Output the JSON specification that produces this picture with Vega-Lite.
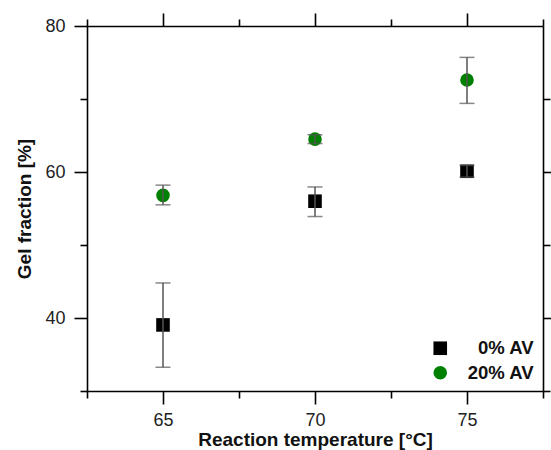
{
  "$schema": "https://vega.github.io/schema/vega-lite/v6.json",
  "width": 456,
  "height": 365,
  "autosize": "none",
  "padding": {"left": 87, "top": 26, "right": 8, "bottom": 59},
  "background": "white",
  "config": {
    "view": {"stroke": null},
    "font": "Liberation Sans",
    "axis": {
      "grid": false,
      "domainColor": "black",
      "domainWidth": 1.6,
      "tickColor": "black",
      "tickWidth": 1.6,
      "labelFont": "Liberation Sans",
      "labelFontSize": 18,
      "labelColor": "#222",
      "titleFont": "Liberation Sans",
      "titleFontSize": 19,
      "titleFontWeight": "bold",
      "titleColor": "#111"
    },
    "legend": {
      "title": null,
      "orient": "none",
      "legendX": 344,
      "legendY": 313,
      "padding": 0,
      "symbolSize": 185,
      "symbolStrokeWidth": 0,
      "labelFont": "Liberation Sans",
      "labelFontSize": 18.5,
      "labelFontWeight": "bold",
      "labelColor": "#111",
      "labelAlign": "right",
      "labelOffset": 84,
      "labelLimit": 200,
      "rowPadding": 5.5
    }
  },
  "data": {
    "values": [
      {"temp": 65, "series": "0% AV", "mean": 39.05, "lo": 33.25, "hi": 44.8},
      {"temp": 70, "series": "0% AV", "mean": 56.0, "lo": 53.9, "hi": 57.95},
      {"temp": 75, "series": "0% AV", "mean": 60.1, "lo": 59.3, "hi": 60.9},
      {"temp": 65, "series": "20% AV", "mean": 56.8, "lo": 55.5, "hi": 58.2},
      {"temp": 70, "series": "20% AV", "mean": 64.5, "lo": 63.9, "hi": 65.1},
      {"temp": 75, "series": "20% AV", "mean": 72.6, "lo": 69.4, "hi": 75.7}
    ]
  },
  "resolve": {"axis": {"x": "independent", "y": "independent"}},
  "layer": [
    {
      "mark": {"type": "point", "filled": true, "opacity": 1, "size": 185},
      "encoding": {
        "x": {
          "field": "temp", "type": "quantitative",
          "scale": {"domain": [62.5, 77.5], "nice": false, "zero": false},
          "axis": {
            "orient": "bottom",
            "title": "Reaction temperature [°C]",
            "values": [65, 70, 75],
            "tickSize": 13,
            "labelPadding": 7,
            "titlePadding": 1
          }
        },
        "y": {
          "field": "mean", "type": "quantitative",
          "scale": {"domain": [30, 80], "nice": false, "zero": false},
          "axis": {
            "orient": "left",
            "title": "Gel fraction [%]",
            "values": [40, 60, 80],
            "tickSize": 13,
            "labelPadding": 9,
            "titlePadding": 10
          }
        },
        "shape": {
          "field": "series", "type": "nominal",
          "scale": {"domain": ["0% AV", "20% AV"], "range": ["square", "circle"]}
        },
        "color": {
          "field": "series", "type": "nominal",
          "scale": {"domain": ["0% AV", "20% AV"], "range": ["#000000", "#008000"]}
        }
      }
    },
    {
      "mark": {"type": "rule", "color": "#555555", "strokeWidth": 1.5},
      "encoding": {
        "x": {
          "field": "temp", "type": "quantitative",
          "axis": {
            "orient": "top",
            "title": null,
            "labels": false,
            "values": [65, 70, 75],
            "tickSize": 13
          }
        },
        "y": {
          "field": "lo", "type": "quantitative",
          "axis": {
            "orient": "right",
            "title": null,
            "labels": false,
            "values": [40, 60],
            "tickSize": 13
          }
        },
        "y2": {"field": "hi"}
      }
    },
    {
      "mark": {"type": "tick", "orient": "horizontal", "color": "#555555", "size": 15, "thickness": 1.5},
      "encoding": {
        "x": {
          "field": "temp", "type": "quantitative",
          "axis": {
            "orient": "bottom",
            "title": null,
            "labels": false,
            "domain": false,
            "values": [62.5, 67.5, 72.5, 77.5],
            "tickSize": 7
          }
        },
        "y": {
          "field": "lo", "type": "quantitative",
          "axis": {
            "orient": "left",
            "title": null,
            "labels": false,
            "domain": false,
            "values": [30, 50, 70],
            "tickSize": 7
          }
        }
      }
    },
    {
      "mark": {"type": "tick", "orient": "horizontal", "color": "#555555", "size": 15, "thickness": 1.5},
      "encoding": {
        "x": {
          "field": "temp", "type": "quantitative",
          "axis": {
            "orient": "top",
            "title": null,
            "labels": false,
            "domain": false,
            "values": [62.5, 67.5, 72.5, 77.5],
            "tickSize": 7
          }
        },
        "y": {
          "field": "hi", "type": "quantitative",
          "axis": {
            "orient": "right",
            "title": null,
            "labels": false,
            "domain": false,
            "values": [30, 50, 70],
            "tickSize": 7
          }
        }
      }
    }
  ]
}
